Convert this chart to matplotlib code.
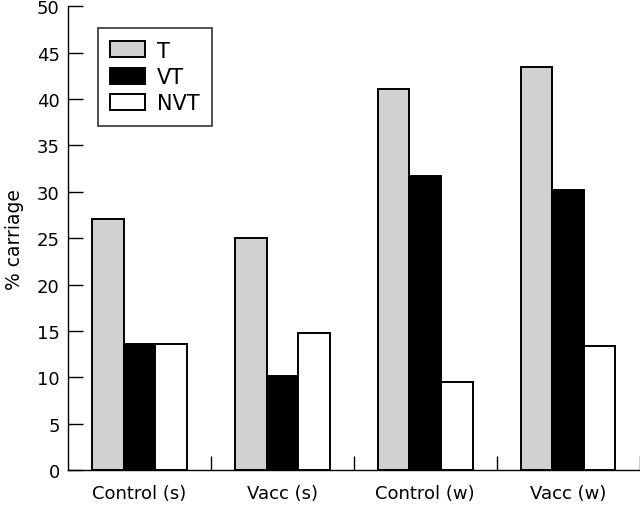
#!/usr/bin/env python3
"""Grouped bar chart of carriage by group (T / VT / NVT)."""

import matplotlib
matplotlib.use("Agg")
import matplotlib.pyplot as plt
import numpy as np

groups = ["Control (s)", "Vacc (s)", "Control (w)", "Vacc (w)"]
series_names = ["T", "VT", "NVT"]
t_vals = [27.1, 25.0, 41.1, 43.5]
vt_vals = [13.6, 10.1, 31.7, 30.2]
nvt_vals = [13.6, 14.8, 9.5, 13.4]
yticks = [0, 5, 10, 15, 20, 25, 30, 35, 40, 45, 50]

colors = ["#d0d1d0", "#000000", "#ffffff"]


def main() -> None:
    plt.rcParams["font.family"] = ["DejaVu Sans"]
    fig = plt.figure(figsize=(6.4, 5.06), dpi=100)
    ax = fig.add_axes([68 / 640, 1 - 471 / 506, 571.5 / 640, 463.7 / 506])

    x = np.arange(len(groups))
    width = 0.221
    for i, (name, vals) in enumerate(zip(series_names, [t_vals, vt_vals, nvt_vals])):
        ax.bar(x + (i - 1) * width, vals, width, color=colors[i],
               edgecolor="black", linewidth=1.4, label=name)

    ax.set_xlim(-0.5, len(groups) - 0.5)
    ax.set_ylim(0, 50)
    ax.set_yticks(yticks)
    ax.set_xticks(x)
    ax.set_xticklabels(groups)
    ax.set_xticks(x + 0.5, minor=True)

    for side in ["top", "right"]:
        ax.spines[side].set_visible(False)
    for side in ["left", "bottom"]:
        ax.spines[side].set_linewidth(1.0)

    ax.tick_params(axis="y", direction="in", length=11, width=1.0,
                   labelsize=13, pad=6)
    ax.tick_params(axis="x", which="major", length=0, labelsize=13, pad=10)
    ax.tick_params(axis="x", which="minor", direction="in", length=10, width=1.0)

    ax.set_ylabel("% carriage", fontsize=13.5, labelpad=9)

    leg = ax.legend(loc="upper left", bbox_to_anchor=(0.052, 0.953),
                    fontsize=15, frameon=True, fancybox=False,
                    handlelength=1.68, handleheight=0.82, handletextpad=0.55,
                    labelspacing=0.3, borderpad=0.6, borderaxespad=0)
    leg.get_frame().set_edgecolor("black")
    leg.get_frame().set_linewidth(1.2)

    fig.savefig("out.png", dpi=100)


if __name__ == "__main__":
    main()
